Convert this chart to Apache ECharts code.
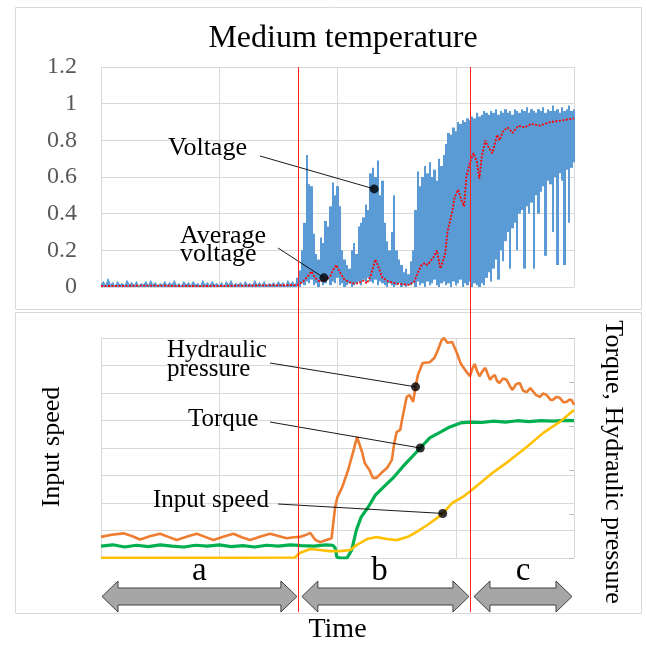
<!DOCTYPE html>
<html><head><meta charset="utf-8">
<script src="https://cdn.jsdelivr.net/npm/echarts@6/dist/echarts.min.js"></script>
<style>html,body{margin:0;padding:0;background:#fff}#chart{width:646px;height:645px}</style>
</head><body><div id="chart"></div>
<script>
// ---------- DATA ----------
// time axis: 0..400 (arbitrary time units, 4 grid divisions)
const timeTicks = [0, 100, 200, 300, 400];
const voltTicks = [0, 0.2, 0.4, 0.6, 0.8, 1, 1.2];
const phaseBounds = [0, 166.5, 312, 400];
const phaseNames = ['a', 'b', 'c'];

// Voltage (raw, noisy) – envelope samples: segment A (t = 0..164, step 4)
const voltStartA = 0, voltStepA = 4;
const voltHiA = [0.03,0.045,0.025,0.03,0.02,0.035,0.025,0.03,0.02,0.03,
  0.035,0.025,0.02,0.03,0.025,0.035,0.02,0.03,0.025,0.03,
  0.02,0.035,0.025,0.03,0.02,0.025,0.03,0.035,0.02,0.025,
  0.03,0.02,0.035,0.025,0.03,0.02,0.025,0.03,0.025,0.035,
  0.03,0.04];
const voltLoA = [0.01,0.005,0.01,0.0,0.01,0.005,0.01,0.005,0.0,0.01,
  0.005,0.01,0.0,0.01,0.005,0.01,0.005,0.0,0.01,0.005,
  0.01,0.0,0.01,0.005,0.01,0.005,0.0,0.01,0.005,0.01,
  0.0,0.01,0.005,0.01,0.005,0.0,0.01,0.005,0.01,0.0,
  0.01,0.005];
// segment B (t = 166..400, step 2): spike top / trough per sample
const voltStartB = 166, voltStepB = 2;
const voltHiB = [0.05,0.09,0.2,0.35,0.72,0.56,0.55,0.29,0.18,0.15,
  0.27,0.24,0.36,0.33,0.44,0.57,0.5,0.55,0.44,0.2,
  0.15,0.12,0.1,0.2,0.24,0.18,0.33,0.35,0.38,0.45,
  0.42,0.62,0.65,0.6,0.69,0.5,0.58,0.35,0.25,0.2,
  0.3,0.5,0.2,0.15,0.12,0.08,0.1,0.07,0.14,0.2,
  0.42,0.63,0.55,0.6,0.66,0.62,0.68,0.6,0.64,0.58,
  0.7,0.66,0.72,0.78,0.84,0.83,0.87,0.85,0.9,0.89,
  0.91,0.9,0.92,0.91,0.93,0.92,0.95,0.93,0.94,0.96,
  0.95,0.94,0.96,0.95,0.97,0.94,0.96,0.95,0.97,0.95,
  0.96,0.94,0.97,0.96,0.95,0.97,0.96,0.98,0.95,0.97,
  0.96,0.95,0.97,0.96,0.98,0.95,0.97,0.96,0.99,0.96,
  0.97,0.95,0.98,0.96,0.97,0.99,0.96,0.97];
const voltLoB = [0.01,0.0,0.02,0.01,0.03,0.02,0.04,0.01,0.02,0.0,
  0.03,0.01,0.02,0.04,0.01,0.03,0.02,0.05,0.01,0.02,
  0.0,0.01,0.02,0.0,0.01,0.02,0.03,0.01,0.04,0.02,
  0.05,0.03,0.02,0.04,0.01,0.03,0.02,0.01,0.0,0.02,
  0.01,0.0,0.01,0.02,0.0,0.01,0.0,0.01,
  0.01,0.02,0.0,0.03,0.01,0.02,0.0,0.03,0.01,0.02,
  0.04,0.01,0.0,0.02,0.03,0.01,0.02,0.0,0.03,0.01,
  0.02,0.04,0.0,0.02,0.01,0.03,0.0,0.02,0.01,0.0,
  0.02,0.01,
  0.05,0.08,0.03,0.1,0.15,0.04,0.2,0.14,0.25,0.3,
  0.1,0.32,0.35,0.2,0.4,0.42,0.1,0.44,0.4,0.46,
  0.1,0.5,0.4,0.52,0.55,0.17,0.58,0.56,0.3,0.6,
  0.12,0.62,0.58,0.12,0.64,0.35,0.65,0.68];

// Average voltage
const avgTime = [0,41,84,126,166,171,175,178,181,185,189,194,196,199,202,206,212,217,222,225,228,232,234,238,243,249,255,261,265,267,271,274,276,281,284,287,291,293,297,299,302,305,307,309,312,315,318,320,322,325,327,331,335,337,340,344,348,353,358,364,371,380,391,400];
const avgVolt = [0.005,0.008,0.005,0.008,0.01,0.03,0.06,0.085,0.05,0.03,0.035,0.06,0.09,0.12,0.08,0.04,0.02,0.02,0.035,0.02,0.06,0.15,0.12,0.05,0.03,0.02,0.015,0.012,0.03,0.065,0.12,0.13,0.12,0.16,0.2,0.1,0.18,0.3,0.41,0.49,0.53,0.47,0.44,0.6,0.68,0.73,0.68,0.59,0.71,0.8,0.77,0.73,0.83,0.8,0.85,0.87,0.84,0.88,0.87,0.89,0.88,0.9,0.91,0.92];

// Hydraulic pressure (right axis, 0..5)
const pressureTime = [0,9,19,26,33,42,50,57,64,73,81,88,95,104,112,119,126,135,143,150,157,163,168,173,177,181,185,195,198,200,204,209,213,216.5,221,223,227,230,233,237,242,246,248,250,253,255,258.5,261,264,266,268,272,278,282,285,288,290,293,297,301,304,308,312,314,316,318,320,323,325,327,329,331,333,335,337,340,343,346,348,351,354,357,360,363,365,368,371,374,377,380,382,385,388,391,394,396,398,400];
const pressureVal = [0.48,0.53,0.56,0.5,0.42,0.5,0.55,0.48,0.41,0.49,0.55,0.48,0.41,0.49,0.55,0.47,0.41,0.49,0.55,0.5,0.45,0.47,0.48,0.52,0.57,0.42,0.36,0.45,1.16,1.39,1.61,2.0,2.39,2.75,2.39,2.16,2.0,1.82,1.82,1.93,2.05,2.23,2.61,2.86,2.91,3.2,3.66,3.7,3.55,3.89,4.16,4.43,4.45,4.55,4.73,4.95,5.0,4.89,4.91,4.66,4.43,4.27,4.13,4.3,4.41,4.25,4.13,4.26,4.32,4.18,4.05,4.12,4.16,4.02,3.98,4.08,4.05,3.9,3.82,3.95,3.98,3.8,3.77,3.86,3.8,3.7,3.66,3.74,3.7,3.6,3.59,3.66,3.64,3.54,3.55,3.6,3.59,3.48];

// Torque (right axis, 0..5)
const torqueTime = [0,10,20,30,40,50,60,70,80,90,100,110,120,130,140,150,160,170,180,190,196,198,199.5,202,208,212,216,220,226,232,238,247,255,263,270,278,287,295,304,312,322,332,342,352,362,372,382,392,400];
const torqueVal = [0.27,0.3,0.25,0.29,0.26,0.3,0.27,0.25,0.29,0.27,0.3,0.26,0.28,0.25,0.29,0.27,0.3,0.28,0.27,0.3,0.29,0.23,0.02,0,0,0.18,0.64,0.93,1.16,1.43,1.59,1.82,2.07,2.3,2.5,2.73,2.86,2.98,3.07,3.09,3.08,3.11,3.09,3.12,3.1,3.12,3.11,3.13,3.12];

// Input speed (left axis, 0..8)
const speedTime = [0,60,120,164,168,177,185,193,202,211,216,225,233,242,250,259,267,276,284,289,297,306,312,331,346,360,374,388,400];
const speedVal = [0.01,0.01,0.01,0.02,0.18,0.33,0.29,0.25,0.25,0.29,0.47,0.69,0.76,0.69,0.65,0.76,0.95,1.2,1.45,1.62,2.0,2.22,2.42,3.09,3.56,4.04,4.55,4.95,5.38];

// annotation anchor points (on the curves)
const voltDots = [[231, 0.535], [188.5, 0.05]];
const rightDots = [[266, 3.89], [270, 2.5]];
const leftDots = [[289, 1.62]];

// ---------- CHART ----------
const FONT = '"Liberation Serif","Times New Roman",serif';
const GRID = '#d9d9d9';
const BLUE = '#5b9bd5';
const pairs = (xs, ys) => xs.map((x, i) => [x, ys[i]]);
function zigzag(start, step, lo, hi) {
  const out = [];
  for (let i = 0; i < hi.length; i++) {
    const t = start + i * step;
    out.push([t, lo[i]]);
    out.push([t + step / 2, hi[i]]);
  }
  return out;
}
const spikeData = voltHiB.map((h, i) => [voltStartB + i * voltStepB, voltLoB[i], h]);
const xAxisBase = (g) => ({
  gridIndex: g, type: 'value', min: timeTicks[0], max: timeTicks[timeTicks.length - 1], interval: timeTicks[1] - timeTicks[0],
  axisLine: {show: false}, axisTick: {show: false}, axisLabel: {show: false},
  splitLine: {show: true, lineStyle: {color: GRID, width: 1}}
});

const chart = echarts.init(document.getElementById('chart'), null, {renderer: 'canvas', width: 646, height: 645});
chart.setOption({
  animation: false,
  backgroundColor: '#ffffff',
  title: {
    text: 'Medium temperature', left: 338, top: 18, textAlign: 'center',
    textStyle: {fontFamily: FONT, fontSize: 32, fontWeight: 'normal', color: '#000'}
  },
  grid: [
    {left: 101, top: 67, width: 473, height: 220},
    {left: 101, top: 338, width: 473, height: 220}
  ],
  xAxis: [xAxisBase(0), Object.assign(xAxisBase(1), {
    name: 'Time', nameLocation: 'middle', nameGap: 58,
    nameTextStyle: {fontFamily: FONT, fontSize: 28, color: '#000'}
  })],
  yAxis: [
    {gridIndex: 0, type: 'value', min: voltTicks[0], max: voltTicks[voltTicks.length - 1], interval: 0.2,
      axisLine: {show: false}, axisTick: {show: false},
      axisLabel: {fontFamily: FONT, fontSize: 24, color: '#595959', margin: 24},
      splitLine: {lineStyle: {color: GRID, width: 1}}},
    {gridIndex: 1, type: 'value', min: 0, max: 8, interval: 1,
      axisLine: {show: false}, axisTick: {show: false}, axisLabel: {show: false},
      splitLine: {lineStyle: {color: GRID, width: 1}}},
    {gridIndex: 1, type: 'value', position: 'right', min: 0, max: 5, interval: 1,
      axisLine: {show: false}, axisTick: {show: true, inside: true, length: 5, lineStyle: {color: '#bfbfbf'}},
      axisLabel: {show: false}, splitLine: {show: false}}
  ],
  series: [
    {name: 'Voltage', type: 'line', xAxisIndex: 0, yAxisIndex: 0, showSymbol: false, silent: true, sampling: 'none',
      data: zigzag(voltStartA, voltStepA, voltLoA, voltHiA),
      lineStyle: {color: BLUE, width: 1}, areaStyle: {color: BLUE, opacity: 1}, z: 2},
    {name: 'Voltage', type: 'custom', xAxisIndex: 0, yAxisIndex: 0, silent: true,
      data: spikeData, encode: {x: 0, y: [1, 2]},
      renderItem: function (params, api) {
        const lo = api.coord([api.value(0), api.value(1)]);
        const hi = api.coord([api.value(0), api.value(2)]);
        const w = api.size([voltStepB, 0])[0];
        // snap column edges to whole pixels so neighbouring columns join without seams
        const x1 = Math.round(hi[0] - w / 2), x2 = Math.round(hi[0] + w / 2);
        return {type: 'rect', shape: {x: x1, y: hi[1], width: Math.max(1, x2 - x1), height: lo[1] - hi[1]},
          style: {fill: BLUE}};
      }, z: 2},
    {name: 'Average voltage', type: 'line', xAxisIndex: 0, yAxisIndex: 0, showSymbol: false,
      data: pairs(avgTime, avgVolt),
      lineStyle: {color: '#ff0000', width: 1.8, type: [2, 1.5]}, z: 3},
    {type: 'scatter', xAxisIndex: 0, yAxisIndex: 0, data: voltDots, symbolSize: 9,
      itemStyle: {color: '#000'}, z: 10},
    {name: 'Torque', type: 'line', xAxisIndex: 1, yAxisIndex: 2, showSymbol: false,
      data: pairs(torqueTime, torqueVal), lineStyle: {color: '#00b050', width: 3.2}, z: 3},
    {name: 'Hydraulic pressure', type: 'line', xAxisIndex: 1, yAxisIndex: 2, showSymbol: false,
      data: pairs(pressureTime, pressureVal), lineStyle: {color: '#ed7d31', width: 2.6}, z: 3},
    {name: 'Input speed', type: 'line', xAxisIndex: 1, yAxisIndex: 1, showSymbol: false,
      data: pairs(speedTime, speedVal), lineStyle: {color: '#ffc000', width: 2.6}, z: 4},
    {type: 'scatter', xAxisIndex: 1, yAxisIndex: 2, data: rightDots, symbolSize: 9,
      itemStyle: {color: '#000'}, z: 10},
    {type: 'scatter', xAxisIndex: 1, yAxisIndex: 1, data: leftDots, symbolSize: 9,
      itemStyle: {color: '#000'}, z: 10}
  ]
});

// ---------- OVERLAY (positions from the chart's own scales) ----------
const xPix = (t) => chart.convertToPixel({xAxisIndex: 0}, t);
const topY = chart.convertToPixel({yAxisIndex: 0}, voltTicks[voltTicks.length - 1]);
const bottomY = chart.convertToPixel({yAxisIndex: 1}, 0);
const g = [];
const txt = (s, x, y, size, opt) => Object.assign({type: 'text', z: 20, style: Object.assign({
  text: s, x: x, y: y, fontFamily: FONT, fontSize: size, fill: '#000', align: 'left', verticalAlign: 'middle'}, opt || {})});

// panel frames
g.push({type: 'rect', z: 0, shape: {x: 15.5, y: 7.5, width: 626, height: 302}, style: {fill: 'none', stroke: '#d9d9d9', lineWidth: 1}});
g.push({type: 'rect', z: 0, shape: {x: 15.5, y: 312.5, width: 626, height: 301}, style: {fill: 'none', stroke: '#d9d9d9', lineWidth: 1}});

// phase boundaries (red lines)
const bx = phaseBounds.map(xPix);
const arrowBottom = bottomY + 54;
[bx[1], bx[2]].forEach(x => {
  const xx = Math.round(x) + 0.5;
  g.push({type: 'line', z: 30, shape: {x1: xx, y1: topY, x2: xx, y2: arrowBottom}, style: {stroke: '#ff2020', lineWidth: 1}});
});

// double arrows + labels
const cy = bottomY + 38.5, hl = 16, hh = 15.5, sh = 8.5;
const spans = [[bx[0] + 1, bx[1] - 1], [bx[1] + 4, bx[2] - 1], [bx[2] + 4, bx[3] - 2]];
spans.forEach((s, i) => {
  const [x1, x2] = s;
  g.push({type: 'polygon', z: 15, shape: {points: [[x1, cy], [x1 + hl, cy - hh], [x1 + hl, cy - sh], [x2 - hl, cy - sh], [x2 - hl, cy - hh], [x2, cy], [x2 - hl, cy + hh], [x2 - hl, cy + sh], [x1 + hl, cy + sh], [x1 + hl, cy + hh]]},
    style: {fill: '#a6a6a6', stroke: '#404040', lineWidth: 1}});
  const cx = (x1 + x2) / 2 + (i === 1 ? -6 : 0);
  g.push(txt(phaseNames[i], cx, bottomY + 13, 33, {align: 'center'}));
});

// annotations
const dotPx = (si, pt) => chart.convertToPixel({seriesIndex: si}, pt);
const lead = (x1, y1, p) => g.push({type: 'line', z: 9, shape: {x1: x1, y1: y1, x2: p[0], y2: p[1]}, style: {stroke: '#000', lineWidth: 0.9}});
g.push(txt('Voltage', 168, 148, 26));
lead(260, 156, dotPx(3, voltDots[0]));
g.push(txt('Average', 180, 236, 26));
g.push(txt('voltage', 180, 254, 26));
lead(278, 248, dotPx(3, voltDots[1]));
g.push(txt('Hydraulic', 167, 350, 25));
g.push(txt('pressure', 167, 369, 25));
lead(270, 363, dotPx(7, rightDots[0]));
g.push(txt('Torque', 188, 419, 25));
lead(270, 422, dotPx(7, rightDots[1]));
g.push(txt('Input speed', 153, 500, 25));
lead(278, 504, dotPx(8, leftDots[0]));

// rotated axis titles
g.push({type: 'text', z: 20, x: 52, y: 447, rotation: Math.PI / 2,
  style: {text: 'Input speed', x: 0, y: 0, fontFamily: FONT, fontSize: 26, fill: '#000', align: 'center', verticalAlign: 'middle'}});
g.push({type: 'text', z: 20, x: 613, y: 462, rotation: -Math.PI / 2,
  style: {text: 'Torque, Hydraulic pressure', x: 0, y: 0, fontFamily: FONT, fontSize: 26, fill: '#000', align: 'center', verticalAlign: 'middle'}});

chart.setOption({graphic: g});
</script></body></html>
